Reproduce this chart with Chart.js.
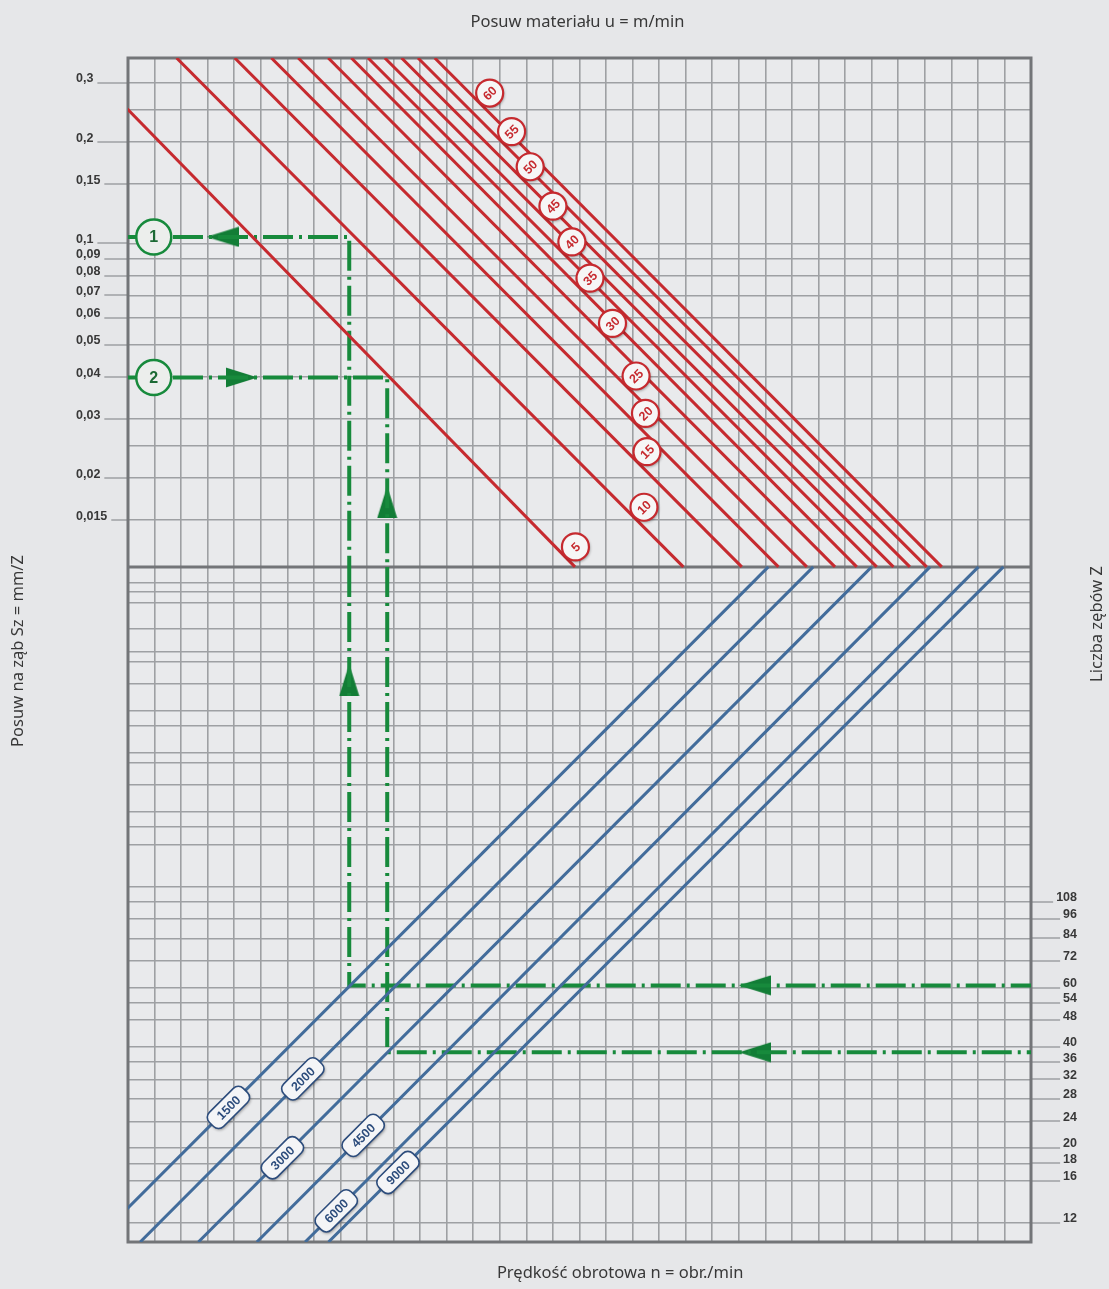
<!DOCTYPE html>
<html>
<head>
<meta charset="utf-8">
<script src="https://cdn.jsdelivr.net/npm/chart.js@4.4.0/dist/chart.umd.min.js"></script>
<style>
  html, body { margin: 0; padding: 0; background: #e6e7e9; }
</style>
</head>
<body>
<canvas id="nomogram" width="1109" height="1289"></canvas>
<script>
// --- feed per tooth Sz (upper half, left scale) ---
const szTicks = [0.3, 0.25, 0.2, 0.15, 0.1, 0.09, 0.08, 0.07, 0.06, 0.05, 0.04, 0.03, 0.025, 0.02, 0.015];
const szLabelled = [0.3, 0.2, 0.15, 0.1, 0.09, 0.08, 0.07, 0.06, 0.05, 0.04, 0.03, 0.02, 0.015];
const szTop = 0.356;    // value at the top edge
const szMid = 0.0109;   // value at the divider

// --- number of teeth Z (lower half, right scale) ---
const zTicks = [960, 900, 840, 700, 600, 560, 480, 400, 360, 300, 280, 240, 200, 180, 160, 120,
                108, 96, 84, 72, 60, 54, 48, 40, 36, 32, 28, 24, 20, 18, 16, 12];
const zLabelled = [108, 96, 84, 72, 60, 54, 48, 40, 36, 32, 28, 24, 20, 18, 16, 12];
const zBottom = 10.5;   // value at the bottom edge
const zMid = 1071;      // value at the divider

// --- feed rate lines u (m/min); x in grid columns at top edge and at divider ---
const feedRates = [5, 10, 15, 20, 25, 30, 35, 40, 45, 50, 55, 60];
const feedAtTop = [-1.90, 1.83, 4.02, 5.40, 6.41, 7.54, 8.41, 9.04, 9.67, 10.30, 10.92, 11.55];
const feedAtMid = [16.83, 20.91, 23.11, 24.49, 25.56, 26.62, 27.44, 28.19, 28.82, 29.44, 30.07, 30.64];
const feedLabelSz = [0.0125, 0.0164, 0.0240, 0.0312, 0.0403, 0.0578, 0.0788, 0.101, 0.129, 0.169, 0.215, 0.280];

// --- spindle speed lines n (obr./min); x in grid columns at bottom edge and at divider ---
const speeds = [1500, 2000, 3000, 4500, 6000, 9000];
const speedAtBottom = [-1.28, 0.46, 2.65, 4.85, 6.67, 7.55];
const speedAtMid = [24.11, 25.80, 28.00, 30.20, 32.02, 32.96];
const speedLabelZ = [26.4, 32.1, 18.7, 21.8, 13.0, 16.9];

// --- worked examples 1 and 2 ---
const exampleNames = ['1', '2'];
const exampleSz = [0.1045, 0.0399];
const exampleCol = [8.33, 9.76];
const exampleZ = [60.9, 38.5];
const exampleBadgeCol = 0.97;

// arrowheads on the example paths (column, value, direction in degrees)
const arrowUpCol = [3.56, 4.28, 9.76];
const arrowUpSz = [exampleSz[0], exampleSz[1], 0.0170];
const arrowUpRot = [180, 0, -90];
const arrowLowCol = [8.33, 23.6, 23.6];
const arrowLowZ = [494, exampleZ[0], exampleZ[1]];
const arrowLowRot = [-90, 180, 180];

const COLS = 34;
const RED = '#c62a2f';
const BLUE = '#426c9b';
const GREEN = '#178a3c';
const GRID = '#9ea0a3';
const FRAME = '#737578';
const TEXT = '#383838';
const TICK_FONT = { family: 'Liberation Sans, Arial, sans-serif', size: 12.5, weight: 'bold' };

// both halves share one plot: extend each log scale over the whole height
const decadesLower = Math.log10(zMid / zBottom);
const decadesUpper = Math.log10(szTop / szMid);
const szFullMin = szMid / Math.pow(10, decadesLower);
const zFullMax = zMid * Math.pow(10, decadesUpper);

const arrowHead = document.createElement('canvas');
arrowHead.width = 32;
arrowHead.height = 21;
(function () {
    const c = arrowHead.getContext('2d');
    c.fillStyle = '#127d36';
    c.beginPath();
    c.moveTo(32, 10.5);
    c.lineTo(0, 0.5);
    c.lineTo(0, 20.5);
    c.closePath();
    c.fill();
})();

const datasets = [];
feedRates.forEach((u, i) => {
    datasets.push({
        label: 'u ' + u,
        data: [{ x: feedAtTop[i], y: szTop }, { x: feedAtMid[i], y: szMid }],
        yAxisID: 'ySz', showLine: true,
        borderColor: RED, borderWidth: 3, pointRadius: 0
    });
});
speeds.forEach((n, i) => {
    datasets.push({
        label: 'n ' + n,
        data: [{ x: speedAtBottom[i], y: zBottom }, { x: speedAtMid[i], y: zMid }],
        yAxisID: 'yZ', showLine: true,
        borderColor: BLUE, borderWidth: 3, pointRadius: 0
    });
});
exampleNames.forEach((name, i) => {
    const style = {
        showLine: true, borderColor: GREEN, borderWidth: 4, pointRadius: 0,
        borderDash: [30, 6, 3, 6], borderCapStyle: 'butt', borderJoinStyle: 'miter'
    };
    datasets.push(Object.assign({
        label: 'przykład ' + name + ' góra',
        data: [{ x: 0, y: exampleSz[i] }, { x: exampleCol[i], y: exampleSz[i] }, { x: exampleCol[i], y: szMid }],
        yAxisID: 'ySz'
    }, style));
    datasets.push(Object.assign({
        label: 'przykład ' + name + ' dół',
        data: [{ x: exampleCol[i], y: zMid }, { x: exampleCol[i], y: exampleZ[i] }, { x: COLS, y: exampleZ[i] }],
        yAxisID: 'yZ'
    }, style));
});
datasets.push({
    label: 'strzałki góra',
    data: arrowUpCol.map((x, i) => ({ x: x, y: arrowUpSz[i] })),
    yAxisID: 'ySz', showLine: false,
    pointStyle: arrowHead, pointRotation: arrowUpRot, pointRadius: 6
});
datasets.push({
    label: 'strzałki dół',
    data: arrowLowCol.map((x, i) => ({ x: x, y: arrowLowZ[i] })),
    yAxisID: 'yZ', showLine: false,
    pointStyle: arrowHead, pointRotation: arrowLowRot, pointRadius: 6
});

function fmt(v) {
    return String(v).replace('.', ',');
}

function roundRect(ctx, x, y, w, h, r) {
    ctx.beginPath();
    ctx.moveTo(x + r, y);
    ctx.arcTo(x + w, y, x + w, y + h, r);
    ctx.arcTo(x + w, y + h, x, y + h, r);
    ctx.arcTo(x, y + h, x, y, r);
    ctx.arcTo(x, y, x + w, y, r);
    ctx.closePath();
}

const decor = {
    id: 'decor',
    beforeDraw(chart) {
        const { ctx, chartArea: a } = chart;
        ctx.save();
        ctx.fillStyle = '#e6e7e9';
        ctx.fillRect(0, 0, chart.width, chart.height);
        ctx.fillStyle = '#e9eaec';
        ctx.fillRect(a.left, a.top, a.right - a.left, a.bottom - a.top);
        ctx.restore();
    },
    beforeDatasetsDraw(chart) {
        const { ctx, chartArea: a, scales } = chart;
        ctx.save();
        // leader lines from the tick labels to the plot
        ctx.font = 'bold ' + TICK_FONT.size + 'px ' + TICK_FONT.family;
        ctx.strokeStyle = GRID;
        ctx.lineWidth = 1.5;
        const ySz = scales.ySz;
        szLabelled.forEach(v => {
            const y = Math.round(ySz.getPixelForValue(v));
            const w = ctx.measureText(fmt(v)).width;
            ctx.beginPath();
            ctx.moveTo(ySz.left + w + 4, y);
            ctx.lineTo(a.left, y);
            ctx.stroke();
        });
        const yZ = scales.yZ;
        zLabelled.forEach(v => {
            const y = Math.round(yZ.getPixelForValue(v));
            const w = ctx.measureText(fmt(v)).width;
            ctx.beginPath();
            ctx.moveTo(a.right, y);
            ctx.lineTo(yZ.right - w - 3, y);
            ctx.stroke();
        });
        // frame and divider
        ctx.strokeStyle = FRAME;
        ctx.lineWidth = 3;
        ctx.strokeRect(a.left, a.top, a.right - a.left, a.bottom - a.top);
        const yd = Math.round(ySz.getPixelForValue(szMid));
        ctx.beginPath();
        ctx.moveTo(a.left, yd);
        ctx.lineTo(a.right, yd);
        ctx.stroke();
        ctx.restore();
    },
    afterDatasetsDraw(chart) {
        const { ctx, scales } = chart;
        const xs = scales.x, ySz = scales.ySz, yZ = scales.yZ;
        ctx.save();
        ctx.textAlign = 'center';
        ctx.textBaseline = 'middle';

        // feed rate badges
        feedRates.forEach((u, i) => {
            const x0 = xs.getPixelForValue(feedAtTop[i]), y0 = ySz.getPixelForValue(szTop);
            const x1 = xs.getPixelForValue(feedAtMid[i]), y1 = ySz.getPixelForValue(szMid);
            const y = ySz.getPixelForValue(feedLabelSz[i]);
            const cx = x0 + (y - y0) / (y1 - y0) * (x1 - x0) + 20;
            ctx.save();
            ctx.shadowColor = 'rgba(0,0,0,0.4)';
            ctx.shadowBlur = 3;
            ctx.shadowOffsetX = 1;
            ctx.shadowOffsetY = 1.5;
            ctx.beginPath();
            ctx.arc(cx, y, 13.5, 0, Math.PI * 2);
            ctx.fillStyle = '#f6f6f6';
            ctx.fill();
            ctx.restore();
            ctx.beginPath();
            ctx.arc(cx, y, 13.5, 0, Math.PI * 2);
            ctx.strokeStyle = RED;
            ctx.lineWidth = 2.2;
            ctx.stroke();
            ctx.save();
            ctx.translate(cx, y);
            ctx.rotate(-Math.PI / 4);
            ctx.fillStyle = RED;
            ctx.font = 'bold 12.5px Liberation Sans, Arial, sans-serif';
            ctx.fillText(String(u), 0, 1);
            ctx.restore();
        });

        // speed badges
        speeds.forEach((n, i) => {
            const x0 = xs.getPixelForValue(speedAtBottom[i]), y0 = yZ.getPixelForValue(zBottom);
            const x1 = xs.getPixelForValue(speedAtMid[i]), y1 = yZ.getPixelForValue(zMid);
            const y = yZ.getPixelForValue(speedLabelZ[i]);
            const cx = x0 + (y - y0) / (y1 - y0) * (x1 - x0);
            ctx.save();
            ctx.translate(cx, y);
            ctx.rotate(-Math.PI / 4);
            ctx.save();
            ctx.shadowColor = 'rgba(0,0,0,0.4)';
            ctx.shadowBlur = 3;
            ctx.shadowOffsetX = 1;
            ctx.shadowOffsetY = 1.5;
            roundRect(ctx, -24, -10, 48, 20, 7);
            ctx.fillStyle = '#f4f5f7';
            ctx.fill();
            ctx.restore();
            roundRect(ctx, -24, -10, 48, 20, 7);
            ctx.strokeStyle = '#2c4c7c';
            ctx.lineWidth = 1.6;
            ctx.stroke();
            ctx.fillStyle = '#2c4c7c';
            ctx.font = 'bold 12.5px Liberation Sans, Arial, sans-serif';
            ctx.fillText(String(n), 0, 1);
            ctx.restore();
        });

        // example badges
        exampleNames.forEach((name, i) => {
            const cx = xs.getPixelForValue(exampleBadgeCol);
            const cy = ySz.getPixelForValue(exampleSz[i]);
            ctx.beginPath();
            ctx.arc(cx, cy, 17.5, 0, Math.PI * 2);
            ctx.fillStyle = '#eceeec';
            ctx.fill();
            ctx.strokeStyle = GREEN;
            ctx.lineWidth = 2.5;
            ctx.stroke();
            ctx.fillStyle = '#1c6a34';
            ctx.font = 'bold 16px Liberation Sans, Arial, sans-serif';
            ctx.fillText(name, cx, cy + 1);
        });
        ctx.restore();
    },
    afterDraw(chart) {
        const { ctx, chartArea: a } = chart;
        ctx.save();
        ctx.fillStyle = TEXT;
        ctx.font = '16.5px "Noto Sans", sans-serif';
        ctx.textAlign = 'center';
        ctx.textBaseline = 'middle';
        ctx.fillText('Posuw materiału u = m/min', (a.left + a.right) / 2 - 2, a.top - 36);
        ctx.fillText('Prędkość obrotowa n = obr./min', a.left + (a.right - a.left) * 0.545, a.bottom + 31);
        ctx.save();
        ctx.translate(18, (a.top + a.bottom) / 2 + 1);
        ctx.rotate(-Math.PI / 2);
        ctx.fillText('Posuw na ząb Sz = mm/Z', 0, 0);
        ctx.restore();
        ctx.save();
        ctx.translate(1097, (a.top + a.bottom) / 2 - 26);
        ctx.rotate(-Math.PI / 2);
        ctx.fillText('Liczba zębów Z', 0, 0);
        ctx.restore();
        ctx.restore();
    }
};

new Chart(document.getElementById('nomogram'), {
    type: 'scatter',
    data: { datasets: datasets },
    options: {
        responsive: false,
        animation: false,
        events: [],
        layout: { padding: { left: 76, right: 32, top: 58, bottom: 47 } },
        plugins: { legend: { display: false }, tooltip: { enabled: false } },
        scales: {
            x: {
                type: 'linear', min: 0, max: COLS,
                ticks: { display: false, stepSize: 1 },
                grid: { color: GRID, lineWidth: 1.6, drawTicks: false },
                border: { display: false },
                afterFit: s => { s.height = 0; }
            },
            ySz: {
                type: 'logarithmic', position: 'left', bounds: 'data',
                min: szFullMin, max: szTop,
                afterBuildTicks: s => { s.ticks = szTicks.map(v => ({ value: v })); },
                ticks: {
                    autoSkip: false, crossAlign: 'far', padding: 0, labelOffset: -4,
                    color: TEXT, font: TICK_FONT,
                    callback: v => szLabelled.includes(v) ? fmt(v) : ''
                },
                grid: { color: GRID, lineWidth: 1.6, drawTicks: false },
                border: { display: false },
                afterFit: s => { s.width = 52; }
            },
            yZ: {
                type: 'logarithmic', position: 'right', bounds: 'data',
                min: zBottom, max: zFullMax,
                afterBuildTicks: s => { s.ticks = zTicks.map(v => ({ value: v })); },
                ticks: {
                    autoSkip: false, crossAlign: 'far', padding: 0, labelOffset: -4,
                    color: TEXT, font: TICK_FONT,
                    callback: v => zLabelled.includes(v) ? fmt(v) : ''
                },
                grid: { color: GRID, lineWidth: 1.6, drawTicks: false },
                border: { display: false },
                afterFit: s => { s.width = 46; }
            }
        }
    },
    plugins: [decor]
});
</script>
</body>
</html>
